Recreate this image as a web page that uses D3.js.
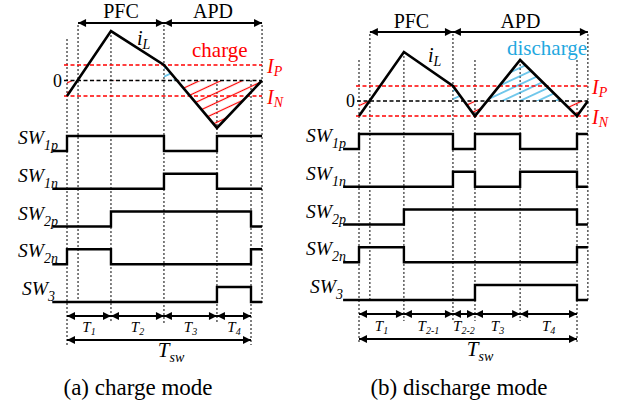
<!DOCTYPE html>
<html><head><meta charset="utf-8">
<script src="https://cdn.jsdelivr.net/npm/d3@7"></script>
<style>
body{margin:0;background:#fff}
svg{display:block}
text{font-family:"Liberation Serif","Times New Roman",Times,serif;fill:#000}
</style>
</head><body>
<svg id="chart" width="625" height="401"></svg>
<script>
// ================= DATA =================
// times are fractions of the switching period Tsw; currents in units of I_P
// (a) charge mode
const aCurrentTimes  = [0, 0.239, 0.527, 0.815, 1.06];
const aCurrentValues = [-1, 3.19, 1, -3.06, 0];
const aPhaseTimes    = [0.06, 0.527, 1.06];          // PFC start, APD start, APD end
const aPhaseNames    = ["PFC", "APD"];
const aIntervalTimes = [0, 0.239, 0.527, 0.815, 1];
const aIntervalSubs  = ["1", "2", "3", "4"];
const aSwitchBounds  = [-0.08, 0, 0.239, 0.527, 0.815, 1, 1.06];
const aSW1p = [0, 1, 1, 0, 1, 1];
const aSW1n = [0, 0, 0, 1, 0, 0];
const aSW2p = [0, 0, 1, 1, 1, 0];
const aSW2n = [0, 1, 0, 0, 0, 1];
const aSW3  = [0, 0, 0, 0, 1, 0];

// (b) discharge mode
const bCurrentTimes  = [0, 0.206, 0.431, 0.532, 0.739, 1, 1.05];
const bCurrentValues = [-1, 3.27, 1, -1, 2.73, -1, 0];
const bPhaseTimes    = [0.05, 0.431, 1.05];
const bPhaseNames    = ["PFC", "APD"];
const bIntervalTimes = [0, 0.206, 0.431, 0.532, 0.739, 1];
const bIntervalSubs  = ["1", "2-1", "2-2", "3", "4"];
const bSwitchBounds  = [-0.073, 0, 0.206, 0.431, 0.532, 0.739, 1, 1.05];
const bSW1p = [0, 1, 1, 0, 1, 0, 1];
const bSW1n = [0, 0, 0, 1, 0, 1, 0];
const bSW2p = [0, 0, 1, 1, 1, 1, 0];
const bSW2n = [0, 1, 0, 0, 0, 0, 1];
const bSW3  = [0, 0, 0, 0, 1, 1, 0];

const switchNames = [["SW","1p"],["SW","1n"],["SW","2p"],["SW","2n"],["SW","3"]];

// ================= LAYOUT =================
const RED = "#ff0000", CYAN = "#1fa8e0";
const svg = d3.select("#chart");
const defs = svg.append("defs");
defs.append("marker").attr("id","arr").attr("viewBox","0 0 10 10")
  .attr("refX",10).attr("refY",5).attr("markerWidth",9).attr("markerHeight",8)
  .attr("markerUnits","userSpaceOnUse").attr("orient","auto-start-reverse")
  .append("path").attr("d","M0,0L10,5L0,10z").attr("fill","#000");

function hatch(id, color, spacing){
  const p = defs.append("pattern").attr("id",id).attr("patternUnits","userSpaceOnUse")
    .attr("width",spacing).attr("height",spacing).attr("patternTransform","rotate(-25)");
  p.append("line").attr("x1",-1).attr("x2",spacing+1).attr("y1",spacing/2).attr("y2",spacing/2)
    .attr("stroke",color).attr("stroke-width",1.2);
}
hatch("hRed", RED, 9);
hatch("hCyan", CYAN, 7.5);

function sub(g, x, y, main, s, o){
  const t = g.append("text").attr("x",x).attr("y",y)
    .attr("font-size",o.size).attr("font-style","italic").attr("text-anchor",o.anchor||"start")
    .style("fill",o.color||"#000");
  t.append("tspan").text(main);
  t.append("tspan").attr("font-size",o.subSize).attr("dy",o.dy).text(s);
  return t;
}

const panels = [
  { id:"a", ct:aCurrentTimes, cv:aCurrentValues, phases:aPhaseTimes, phaseNames:aPhaseNames,
    it:aIntervalTimes, is:aIntervalSubs, sb:aSwitchBounds, sw:[aSW1p,aSW1n,aSW2p,aSW2n,aSW3],
    xr:[67,251], yr:[96,65], swr:[151,302], swH:15, phaseY:23, phaseLbl:18,
    tY:316, tLbl:332, tswY:340, tswLbl:357, labelX:18, zeroX:62, ipX:267,
    il:[137,45], word:"charge", wordColor:RED, wordX:192, wordY:57,
    caption:"(a) charge mode", capX:138, startTop:39, valleyTop:80 },
  { id:"b", ct:bCurrentTimes, cv:bCurrentValues, phases:bPhaseTimes, phaseNames:bPhaseNames,
    it:bIntervalTimes, is:bIntervalSubs, sb:bSwitchBounds, sw:[bSW1p,bSW1n,bSW2p,bSW2n,bSW3],
    xr:[359,577], yr:[116,86], swr:[149,300], swH:15, phaseY:32, phaseLbl:28,
    tY:314, tLbl:331, tswY:339, tswLbl:356, labelX:306, zeroX:355, ipX:592,
    il:[428,62], word:"discharge", wordColor:CYAN, wordX:507, wordY:55,
    caption:"(b) discharge mode", capX:459, startTop:60, valleyTop:60 }
];

panels.forEach(P => {
  const g = svg.append("g");
  const x = d3.scaleLinear().domain([0,1]).range(P.xr);
  const y = d3.scaleLinear().domain([-1,1]).range(P.yr);
  const row = d3.scalePoint().domain(d3.range(5)).range(P.swr);
  const xEnd = x(P.phases[2]);
  const y0 = y(0);

  // ----- vertical dotted guide lines -----
  const guides = [];
  P.it.forEach((t,i) => {
    const isEnd = (i===0 || i===P.it.length-1);
    let top;
    const ci = P.ct.findIndex(c => Math.abs(c-t)<1e-6);
    if (i===0) top = P.startTop;
    else if (P.phases.some(p=>Math.abs(p-t)<1e-6)) top = P.phaseY+2;
    else if (ci>=0 && P.cv[ci]>0) top = y(P.cv[ci]);
    else top = P.valleyTop;
    guides.push({t, top, bottom: isEnd ? P.tswY+5 : P.tY+7});
  });
  [P.phases[0], P.phases[2]].forEach(t => guides.push({t, top:P.phaseY+2, bottom:P.swr[1]+2}));
  g.selectAll(".guide").data(guides).join("line")
    .attr("x1",d=>x(d.t)).attr("x2",d=>x(d.t)).attr("y1",d=>d.top).attr("y2",d=>d.bottom)
    .attr("stroke","#000").attr("stroke-width",1).attr("stroke-dasharray","2,2");

  // ----- hatched areas -----
  const pts = P.ct.map((t,i)=>[t,P.cv[i]]);
  const area = d3.area().x(d=>x(d[0])).y0(y0).y1(d=>y(d[1]));
  const cpR = "clipR"+P.id, cpC = "clipC"+P.id;
  defs.append("clipPath").attr("id",cpR).append("rect")
    .attr("x",0).attr("y",y0).attr("width",625).attr("height",200);
  defs.append("clipPath").attr("id",cpC).append("rect")
    .attr("x",x(P.phases[1])).attr("y",0).attr("width",625).attr("height",y0);
  g.append("path").datum(pts).attr("d",area).attr("fill","url(#hRed)").attr("clip-path",`url(#${cpR})`);
  g.append("path").datum(pts).attr("d",area).attr("fill","url(#hCyan)").attr("clip-path",`url(#${cpC})`);

  // ----- reference levels -----
  const x0 = x(0);
  [1,-1].forEach(v => g.append("line")
    .attr("x1",x0-3).attr("x2",xEnd).attr("y1",y(v)).attr("y2",y(v))
    .attr("stroke",RED).attr("stroke-width",1.6).attr("stroke-dasharray","4,2.5"));
  g.append("line").attr("x1",P.zeroX+2).attr("x2",xEnd).attr("y1",y0).attr("y2",y0)
    .attr("stroke","#000").attr("stroke-width",1.6).attr("stroke-dasharray","4,2.5");
  g.append("text").attr("x",P.zeroX).attr("y",y0+6).attr("text-anchor","end")
    .attr("font-size",18).text("0");
  sub(g, P.ipX, y(1)+8, "I", "P", {size:20, subSize:14, dy:3, color:RED});
  sub(g, P.ipX, y(-1)+8, "I", "N", {size:20, subSize:14, dy:3, color:RED});

  // ----- inductor current -----
  g.append("path").datum(pts)
    .attr("d", d3.line().x(d=>x(d[0])).y(d=>y(d[1])))
    .attr("fill","none").attr("stroke","#000").attr("stroke-width",2.6).attr("stroke-linejoin","miter");
  sub(g, P.il[0], P.il[1], "i", "L", {size:20, subSize:14, dy:4});
  g.append("text").attr("x",P.wordX).attr("y",P.wordY).attr("font-size",21)
    .style("fill",P.wordColor).text(P.word);

  // ----- phase arrows -----
  P.phaseNames.forEach((n,i) => {
    const x1 = x(P.phases[i]), x2 = x(P.phases[i+1]);
    g.append("line").attr("x1",x1).attr("x2",x2).attr("y1",P.phaseY).attr("y2",P.phaseY)
      .attr("stroke","#000").attr("stroke-width",2)
      .attr("marker-start","url(#arr)").attr("marker-end","url(#arr)");
    g.append("text").attr("x",(x1+x2)/2).attr("y",P.phaseLbl).attr("text-anchor","middle")
      .attr("font-size",20).text(n);
  });

  // ----- switch signals -----
  P.sw.forEach((levels,r) => {
    const base = row(r);
    const line = [];
    levels.forEach((lv,k) => {
      const yy = base - lv*P.swH;
      line.push([x(P.sb[k]), yy]);
      line.push([x(P.sb[k+1]), yy]);
    });
    g.append("path").attr("d", d3.line()(line)).attr("fill","none")
      .attr("stroke","#000").attr("stroke-width",2.4);
    sub(g, P.labelX + (r===4?4:0), base-7, switchNames[r][0], switchNames[r][1],
        {size:19.5, subSize:14, dy:6});
  });

  // ----- interval arrows -----
  P.is.forEach((s,i) => {
    const x1 = x(P.it[i]), x2 = x(P.it[i+1]);
    g.append("line").attr("x1",x1).attr("x2",x2).attr("y1",P.tY).attr("y2",P.tY)
      .attr("stroke","#000").attr("stroke-width",2)
      .attr("marker-start","url(#arr)").attr("marker-end","url(#arr)");
    sub(g, (x1+x2)/2, P.tLbl, "T", s, {size:15, subSize:10, dy:3, anchor:"middle"});
  });
  g.append("line").attr("x1",x(0)).attr("x2",x(1)).attr("y1",P.tswY).attr("y2",P.tswY)
    .attr("stroke","#000").attr("stroke-width",2)
    .attr("marker-start","url(#arr)").attr("marker-end","url(#arr)");
  sub(g, (x(0)+x(1))/2+12, P.tswLbl, "T", "sw", {size:21, subSize:14, dy:5, anchor:"middle"});

  g.append("text").attr("x",P.capX).attr("y",395).attr("text-anchor","middle")
    .attr("font-size",23).text(P.caption);
});
</script>
</body></html>
